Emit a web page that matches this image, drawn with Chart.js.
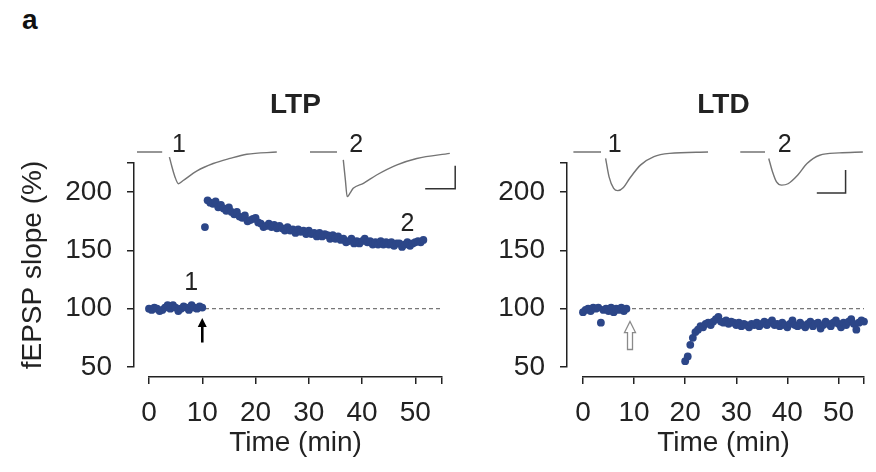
<!DOCTYPE html>
<html lang="en">
<head>
<meta charset="UTF-8">
<title>LTP / LTD fEPSP slope</title>
<script src="https://cdn.jsdelivr.net/npm/chart.js"></script>
<style>
  body { margin: 0; background: #fff; width: 876px; height: 472px; position: relative; overflow: hidden;
         font-family: 'Liberation Sans', Arial, sans-serif; }
  #tag { position: absolute; left: 22px; top: 6px; font-size: 28px; line-height: 1; font-weight: bold; color: #111; }
  canvas { position: absolute; top: 80px; }
  #ltpChart { left: 0; }
  #ltdChart { left: 462px; }
</style>
</head>
<body>
<div id="tag">a</div>
<canvas id="ltpChart" width="462" height="392"></canvas>
<canvas id="ltdChart" width="414" height="392"></canvas>
<script>
// axis ticks (time in min, slope in % of baseline); '' = bare tick at the axis end
const timeTicks = [0, 10, 20, 30, 40, 50, 55];
const timeLabels = ['0', '10', '20', '30', '40', '50', ''];
const slopeTicks = [50, 100, 150, 200, 225];
const slopeLabels = ['50', '100', '150', '200', ''];
const controlLevel = 100;

// LTP: fEPSP slope (%) over time (min)
const ltpTime = [
  0, 0.5, 1, 1.5, 2, 2.5, 3, 3.5, 4, 4.5,
  5, 5.5, 6, 6.5, 7, 7.5, 8, 8.5, 9, 9.5,
  10, 10.5, 11, 11.5, 12, 12.5, 13, 13.5, 14, 14.5,
  15, 15.5, 16, 16.5, 17, 17.5, 18, 18.5, 19, 19.5,
  20, 20.5, 21, 21.5, 22, 22.5, 23, 23.5, 24, 24.5,
  25, 25.5, 26, 26.5, 27, 27.5, 28, 28.5, 29, 29.5,
  30, 30.5, 31, 31.5, 32, 32.5, 33, 33.5, 34, 34.5,
  35, 35.5, 36, 36.5, 37, 37.5, 38, 38.5, 39, 39.5,
  40, 40.5, 41, 41.5, 42, 42.5, 43, 43.5, 44, 44.5,
  45, 45.5, 46, 46.5, 47, 47.5, 48, 48.5, 49, 49.5,
  50, 50.5, 51, 51.5
];
const ltpSlope = [
  100, 99, 101, 100, 98, 99, 101, 103, 100, 103,
  101, 98, 100, 102, 101, 99, 103, 101, 100, 102,
  101, 170, 193, 191, 190, 192, 187, 189, 186, 184,
  187, 183, 181, 183, 179, 178, 180, 175, 176, 177,
  178, 174, 173, 170, 171, 173, 170, 172, 169, 171,
  169, 167, 170, 167, 168, 165, 168, 166, 167, 164,
  167, 164, 165, 162, 165, 162, 164, 163, 160, 163,
  160, 162, 159, 160, 157, 158, 160, 156, 158, 156,
  158, 160, 157, 158, 155, 157, 155, 158, 155, 157,
  155, 157, 154, 156, 156, 153, 155, 157, 154, 156,
  157, 158, 157, 159
];

// LTD: fEPSP slope (%) over time (min)
const ltdTime = [
  0, 0.5, 1, 1.5, 2, 2.5, 3, 3.5, 4, 4.5,
  5, 5.5, 6, 6.5, 7, 7.5, 8, 8.5,
  20, 20.5, 21, 21.5, 22, 22.5, 23, 23.5, 24, 24.5,
  25, 25.5, 26, 26.5, 27, 27.5, 28, 28.5, 29, 29.5,
  30, 30.5, 31, 31.5, 32, 32.5, 33, 33.5, 34, 34.5,
  35, 35.5, 36, 36.5, 37, 37.5, 38, 38.5, 39, 39.5,
  40, 40.5, 41, 41.5, 42, 42.5, 43, 43.5, 44, 44.5,
  45, 45.5, 46, 46.5, 47, 47.5, 48, 48.5, 49, 49.5,
  50, 50.5, 51, 51.5, 52, 52.5, 53, 53.5, 54, 54.5,
  55
];
const ltdSlope = [
  97, 99, 100, 98, 101, 100, 101, 88, 99, 100,
  98, 101, 97, 100, 99, 101, 98, 100,
  55, 59, 69, 75, 80, 82, 85, 84, 87, 88,
  86, 89, 91, 93, 89, 88, 90, 87, 89, 88,
  86, 88, 85, 87, 86, 84, 87, 86, 88, 85,
  87, 89, 86, 88, 90, 86, 87, 85, 88, 86,
  84, 87, 90, 86, 85, 88, 86, 84, 87, 89,
  85, 87, 88, 83, 86, 89, 87, 85, 88, 90,
  87, 84, 88, 86, 89, 91, 87, 82, 88, 90,
  89
];

// example field potentials (ms, mV); null = blanked stimulus
const ltpTrace1Ms = [0, 4.2, 4.8, 5.4, 5.8, 6.3, 6.9, 7.7, 10.0, 12.7, 15.5, 18.3, 23.3];
const ltpTrace1Mv = [0, 0, null, -0.11, -0.31, -0.53, -0.69, -0.62, -0.41, -0.25, -0.14, -0.05, 0];
const ltpTrace2Ms = [0, 4.5, 5.0, 5.55, 5.9, 6.2, 6.7, 7.2, 8.9, 11.1, 14.5, 17.8, 23.3];
const ltpTrace2Mv = [0, 0, null, -0.17, -0.61, -0.97, -0.89, -0.79, -0.68, -0.50, -0.28, -0.14, -0.03];
const ltdTrace1Ms = [0, 4.8, 5.2, 5.6, 6.2, 7.0, 7.7, 8.7, 9.8, 11.7, 14.0, 16.7, 23.4];
const ltdTrace1Mv = [0, 0, null, -0.14, -0.54, -0.79, -0.84, -0.77, -0.57, -0.28, -0.10, -0.03, 0];
const ltdTrace2Ms = [0, 4.3, 4.6, 4.95, 5.6, 6.3, 7.2, 8.3, 10.0, 11.6, 13.8, 17.2, 21.3];
const ltdTrace2Mv = [0, 0, null, -0.14, -0.43, -0.65, -0.72, -0.69, -0.50, -0.25, -0.07, -0.02, 0];
// calibration bars: 0.5 mV up, then 5 ms across
const barMs = [5, 5, 0];
const barMv = [0.5, 0, 0];

const ink = '#222';
const dotBlue = '#2c4688';
const traceGrey = '#747474';
Chart.defaults.font.family = "'Liberation Sans', Arial, sans-serif";
Chart.defaults.color = ink;

const pts = (xs, ys) => xs.map((x, i) => ({ x: x, y: ys[i] }));

// text labels and arrows placed in data units
const notesPlugin = {
  id: 'notes',
  afterDatasetsDraw(chart, args, opts) {
    const ctx = chart.ctx;
    ctx.save();
    (opts.labels || []).forEach(l => {
      const px = chart.scales[l.xAxis].getPixelForValue(l.x);
      const py = chart.scales[l.yAxis].getPixelForValue(l.y);
      ctx.font = "25px 'Liberation Sans', Arial, sans-serif";
      ctx.fillStyle = ink;
      ctx.textAlign = 'center';
      ctx.textBaseline = 'middle';
      ctx.fillText(l.text, px, py);
    });
    (opts.arrows || []).forEach(a => {
      const x = chart.scales.x.getPixelForValue(a.x);
      const tip = chart.scales.y.getPixelForValue(a.tip);
      const tail = chart.scales.y.getPixelForValue(a.tail);
      if (a.hollow) {
        const hw = 5.5, sw = 2.5, hl = 11;
        ctx.beginPath();
        ctx.moveTo(x, tip);
        ctx.lineTo(x + hw, tip + hl);
        ctx.lineTo(x + sw, tip + hl);
        ctx.lineTo(x + sw, tail);
        ctx.lineTo(x - sw, tail);
        ctx.lineTo(x - sw, tip + hl);
        ctx.lineTo(x - hw, tip + hl);
        ctx.closePath();
        ctx.fillStyle = '#fff';
        ctx.fill();
        ctx.strokeStyle = '#8a8a8a';
        ctx.lineWidth = 1.3;
        ctx.stroke();
      } else {
        ctx.strokeStyle = '#000';
        ctx.lineWidth = 2.6;
        ctx.beginPath();
        ctx.moveTo(x, tail);
        ctx.lineTo(x, tip + 6);
        ctx.stroke();
        ctx.fillStyle = '#000';
        ctx.beginPath();
        ctx.moveTo(x, tip);
        ctx.lineTo(x + 4.5, tip + 9);
        ctx.lineTo(x - 4.5, tip + 9);
        ctx.closePath();
        ctx.fill();
      }
    });
    ctx.restore();
  }
};

function traceSet(ms, mv, xAxis) {
  return {
    data: pts(ms, mv), xAxisID: xAxis, yAxisID: 'yt', showLine: true,
    borderColor: traceGrey, borderWidth: 1.4, pointRadius: 0,
    cubicInterpolationMode: 'monotone', clip: false, order: 0
  };
}
function barSet(x0, y0) {
  return {
    data: pts(barMs.map(v => v + x0), barMv.map(v => v + y0)), xAxisID: 'xt2', yAxisID: 'yt',
    showLine: true, borderColor: '#333', borderWidth: 1.5, pointRadius: 0, tension: 0, clip: false, order: 0
  };
}

function panel(id, o) {
  return new Chart(document.getElementById(id), {
    type: 'scatter',
    data: {
      datasets: [
        {
          data: pts([timeTicks[0], timeTicks[timeTicks.length - 1]], [controlLevel, controlLevel]),
          xAxisID: 'x', yAxisID: 'y', showLine: true, borderColor: '#555', borderWidth: 1,
          borderDash: [4, 3], pointRadius: 0, order: 3
        },
        {
          data: pts(o.time, o.slope), xAxisID: 'x', yAxisID: 'y',
          pointRadius: 3.9, pointBackgroundColor: dotBlue, pointBorderColor: dotBlue,
          pointBorderWidth: 0, clip: false, order: 1
        },
        traceSet(o.trace1Ms, o.trace1Mv, 'xt1'),
        traceSet(o.trace2Ms, o.trace2Mv, 'xt2'),
        barSet(o.bar[0], o.bar[1])
      ]
    },
    options: {
      responsive: false,
      animation: false,
      events: [],
      layout: { padding: { left: 0, right: o.padRight, top: 0, bottom: 0 } },
      plugins: {
        legend: { display: false },
        tooltip: { enabled: false },
        title: {
          display: true, text: o.title, fullSize: false, color: ink,
          font: { size: 28, weight: 'bold' }, padding: { top: 8, bottom: 41.4 }
        },
        notes: o.notes
      },
      scales: {
        x: {
          type: 'linear', position: 'bottom', weight: 1,
          min: timeTicks[0], max: timeTicks[timeTicks.length - 1],
          afterBuildTicks: s => { s.ticks = timeTicks.map(v => ({ value: v })); },
          afterFit: s => { s.height = 95; },
          border: { color: ink, width: 1.5 },
          grid: { drawOnChartArea: false, drawTicks: true, tickLength: 7, color: ink, lineWidth: 1.5 },
          ticks: { autoSkip: false, maxRotation: 0, padding: 12, font: { size: 28 },
                   callback: (v, i) => timeLabels[i] },
          title: { display: true, text: 'Time (min)', font: { size: 28 }, padding: { top: 0, bottom: 12 } }
        },
        xs: {
          type: 'linear', position: 'bottom', weight: 0, min: 0, max: 1,
          grid: { display: false }, border: { display: false }, ticks: { display: false },
          afterFit: s => { s.height = 10; }
        },
        y: {
          type: 'linear', position: 'left', weight: 1,
          min: slopeTicks[0], max: slopeTicks[slopeTicks.length - 1],
          afterBuildTicks: s => { s.ticks = slopeTicks.map(v => ({ value: v })); },
          afterFit: s => { s.width = o.yWidth; },
          border: { color: ink, width: 1.5 },
          grid: { drawOnChartArea: false, drawTicks: true, tickLength: 7, color: ink, lineWidth: 1.5 },
          ticks: { autoSkip: false, padding: 15, font: { size: 28 }, callback: (v, i) => slopeLabels[i] },
          title: { display: o.yTitle !== '', text: o.yTitle, font: { size: 28 }, padding: { top: 16, bottom: 0 } }
        },
        ys: {
          type: 'linear', position: 'left', weight: 0, min: 0, max: 1,
          grid: { display: false }, border: { display: false }, ticks: { display: false },
          afterFit: s => { s.width = o.yGap; }
        },
        xt1: { type: 'linear', display: false, min: o.xt1[0], max: o.xt1[1] },
        xt2: { type: 'linear', display: false, min: o.xt2[0], max: o.xt2[1] },
        yt: { type: 'linear', display: false, min: -4.674, max: -0.239 }
      }
    },
    plugins: [notesPlugin]
  });
}

panel('ltpChart', {
  title: 'LTP', yTitle: 'fEPSP slope (%)', yWidth: 134, yGap: 15, padRight: 20,
  time: ltpTime, slope: ltpSlope,
  trace1Ms: ltpTrace1Ms, trace1Mv: ltpTrace1Mv, trace2Ms: ltpTrace2Ms, trace2Mv: ltpTrace2Mv,
  xt1: [2, 50.83], xt2: [-26.83, 22.0], bar: [19.2, -0.8],
  notes: {
    labels: [
      { text: '1', x: 7.9, y: 122, xAxis: 'x', yAxis: 'y' },
      { text: '2', x: 48.5, y: 173, xAxis: 'x', yAxis: 'y' },
      { text: '1', x: 7.0, y: 0.15, xAxis: 'xt1', yAxis: 'yt' },
      { text: '2', x: 7.7, y: 0.15, xAxis: 'xt2', yAxis: 'yt' }
    ],
    arrows: [{ x: 10, tip: 92, tail: 71, hollow: false }]
  }
});

panel('ltdChart', {
  title: 'LTD', yTitle: '', yWidth: 105, yGap: 16, padRight: 0,
  time: ltdTime, slope: ltdSlope,
  trace1Ms: ltdTrace1Ms, trace1Mv: ltdTrace1Mv, trace2Ms: ltdTrace2Ms, trace2Mv: ltdTrace2Mv,
  xt1: [1.67, 50.5], xt2: [-27.33, 21.5], bar: [13.3, -0.89],
  notes: {
    labels: [
      { text: '1', x: 7.2, y: 0.15, xAxis: 'xt1', yAxis: 'yt' },
      { text: '2', x: 7.7, y: 0.15, xAxis: 'xt2', yAxis: 'yt' }
    ],
    arrows: [{ x: 9.2, tip: 89, tail: 65, hollow: true }]
  }
});
</script>
</body>
</html>
